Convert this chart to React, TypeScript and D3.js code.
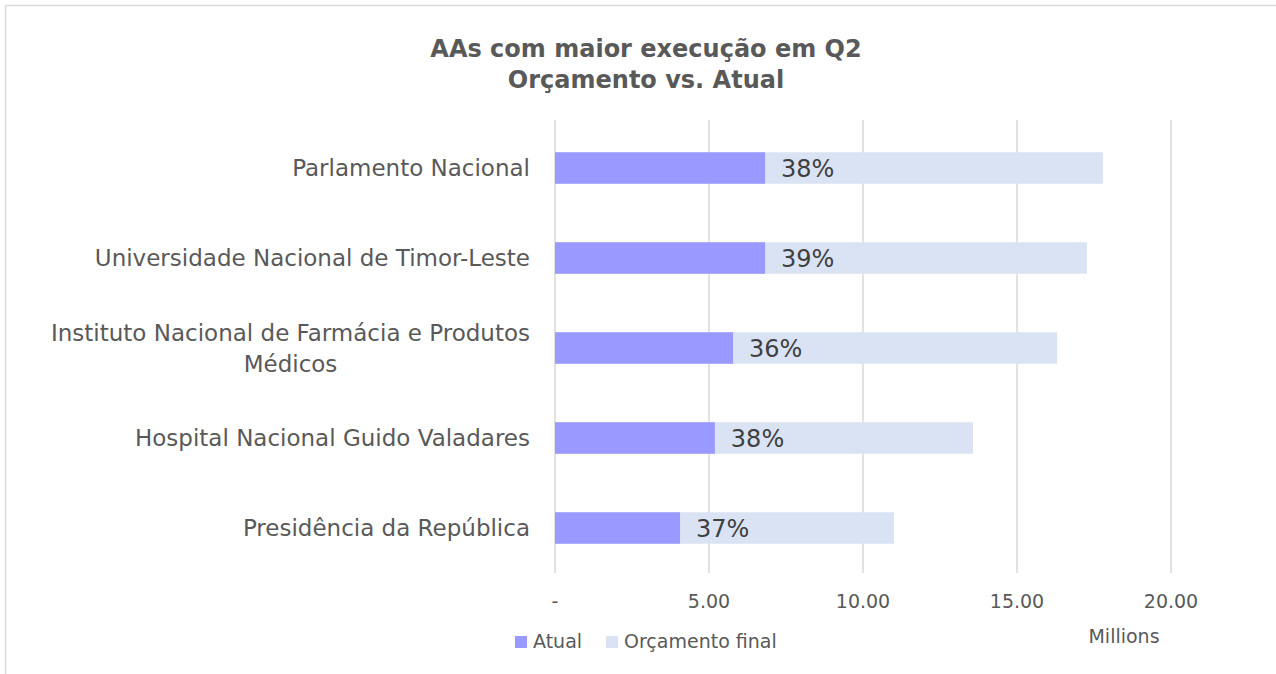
import React, { useEffect, useRef } from 'react';
import * as d3 from 'd3';

// Data (millions)
const categories = [
  'Parlamento Nacional',
  'Universidade Nacional de Timor-Leste',
  'Instituto Nacional de Farmácia e Produtos Médicos',
  'Hospital Nacional Guido Valadares',
  'Presidência da República',
];
const atual = [6.82, 6.82, 5.78, 5.19, 4.06];
const orcamentoFinal = [17.79, 17.27, 16.3, 13.57, 11.0];
const percentLabels = ['38%', '39%', '36%', '38%', '37%'];
const xTicks = [0, 5, 10, 15, 20];
const seriesNames = ['Atual', 'Orçamento final'];
const titleLines = ['AAs com maior execução em Q2', 'Orçamento vs. Atual'];

const FONT = '"DejaVu Sans", sans-serif';

export default function App() {
  const ref = useRef<SVGSVGElement | null>(null);

  useEffect(() => {
    const width = 1276;
    const height = 674;
    const margin = { top: 123, bottom: 101, left: 555, right: 105 };

    const svg = d3.select(ref.current).attr('width', width).attr('height', height);
    svg.selectAll('*').remove();

    svg.append('rect')
      .attr('x', 5.5).attr('y', 5.5)
      .attr('width', width + 20).attr('height', height + 20)
      .attr('fill', '#fff').attr('stroke', '#d9d9d9').attr('stroke-width', 1.5);

    // Title
    svg.append('text')
      .attr('x', 646).attr('y', 57)
      .attr('text-anchor', 'middle')
      .attr('font-family', FONT).attr('font-weight', 'bold').attr('font-size', 24)
      .attr('fill', '#595959')
      .selectAll('tspan')
      .data(titleLines)
      .join('tspan')
      .attr('x', 646)
      .attr('dy', (d, i) => (i === 0 ? 0 : 31))
      .text(d => d);

    // Scales
    const xScale = d3.scaleLinear()
      .domain([0, 20])
      .range([margin.left, width - margin.right]);

    const yScale = d3.scaleBand()
      .domain(categories)
      .range([margin.top, height - margin.bottom])
      .paddingInner(0.65)
      .paddingOuter(0.325);

    // Gridlines
    svg.append('g')
      .selectAll('line')
      .data(xTicks)
      .join('line')
      .attr('x1', d => xScale(d)).attr('x2', d => xScale(d))
      .attr('y1', 120).attr('y2', 573)
      .attr('stroke', '#d9d9d9').attr('stroke-width', 1.5);

    // Tick labels
    svg.append('g')
      .selectAll('text')
      .data(xTicks)
      .join('text')
      .attr('x', d => xScale(d))
      .attr('y', 608)
      .attr('text-anchor', 'middle')
      .attr('font-family', FONT).attr('font-size', 19)
      .attr('fill', '#595959')
      .text(d => (d === 0 ? '-' : d3.format('.2f')(d)));

    svg.append('text')
      .attr('x', 1124).attr('y', 643)
      .attr('text-anchor', 'middle')
      .attr('font-family', FONT).attr('font-size', 19)
      .attr('fill', '#595959')
      .text('Millions');

    // Bars: budget behind, actual on top
    svg.append('g')
      .selectAll('rect')
      .data(categories)
      .join('rect')
      .attr('x', xScale(0))
      .attr('y', d => yScale(d))
      .attr('width', (d, i) => xScale(orcamentoFinal[i]) - xScale(0))
      .attr('height', yScale.bandwidth())
      .attr('fill', '#dae3f3');

    svg.append('g')
      .selectAll('rect')
      .data(categories)
      .join('rect')
      .attr('x', xScale(0))
      .attr('y', d => yScale(d))
      .attr('width', (d, i) => xScale(atual[i]) - xScale(0))
      .attr('height', yScale.bandwidth())
      .attr('fill', '#9999ff');

    // Percent labels
    svg.append('g')
      .selectAll('text')
      .data(categories)
      .join('text')
      .attr('x', (d, i) => xScale(atual[i]) + 16)
      .attr('y', d => yScale(d) + yScale.bandwidth() / 2)
      .attr('dy', '0.36em')
      .attr('font-family', FONT).attr('font-size', 24)
      .attr('fill', '#404040')
      .text((d, i) => percentLabels[i]);

    // Category labels (wrapped, right aligned block, lines centered)
    const labelG = svg.append('g');
    categories.forEach(cat => {
      const cy = yScale(cat) + yScale.bandwidth() / 2;
      const t = labelG.append('text')
        .attr('font-family', FONT).attr('font-size', 23)
        .attr('fill', '#595959');
      const words = cat.split(' ');
      const lines: string[] = [];
      let cur = '';
      words.forEach(w => {
        const test = cur ? cur + ' ' + w : w;
        t.text(test);
        const len = (t.node() as SVGTextElement).getComputedTextLength();
        if (len > 500 && cur) {
          lines.push(cur);
          cur = w;
        } else {
          cur = test;
        }
      });
      lines.push(cur);
      t.text(null);
      const widths = lines.map(l => {
        t.text(l);
        return (t.node() as SVGTextElement).getComputedTextLength();
      });
      t.text(null);
      const maxW = d3.max(widths) as number;
      const centerX = 530 - maxW / 2;
      const lineH = 31;
      lines.forEach((l, i) => {
        t.append('tspan')
          .attr('x', centerX)
          .attr('y', cy + (i - (lines.length - 1) / 2) * lineH)
          .attr('dy', '0.36em')
          .attr('text-anchor', 'middle')
          .text(l);
      });
    });

    // Legend
    const legendX = [515, 606];
    const legendColors = ['#9999ff', '#dae3f3'];
    const legend = svg.append('g')
      .selectAll('g')
      .data(seriesNames)
      .join('g')
      .attr('transform', (d, i) => `translate(${legendX[i]}, 636)`);
    legend.append('rect')
      .attr('width', 12).attr('height', 12)
      .attr('fill', (d, i) => legendColors[i]);
    legend.append('text')
      .attr('x', 18).attr('y', 12)
      .attr('font-family', FONT).attr('font-size', 19)
      .attr('fill', '#595959')
      .text(d => d);
  }, []);

  return (
    <div style={{ position: 'fixed', left: 0, top: 0, width: 1276, height: 674, overflow: 'hidden', background: '#fff' }}>
      <svg ref={ref} style={{ display: 'block' }} />
    </div>
  );
}
